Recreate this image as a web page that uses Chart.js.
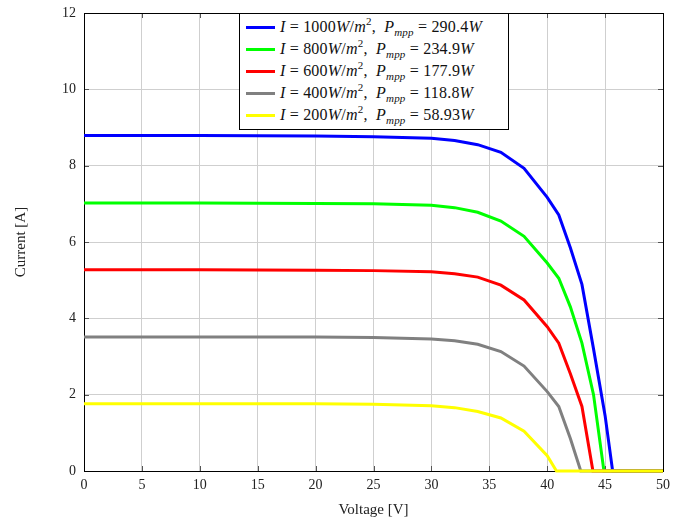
<!DOCTYPE html>
<html>
<head>
<meta charset="utf-8">
<script src="https://cdn.jsdelivr.net/npm/chart.js@4/dist/chart.umd.min.js"></script>
<style>
  html, body { margin: 0; padding: 0; background: #fff; }
  #wrap { position: relative; width: 681px; height: 521px; }
  #legend {
    position: absolute; background: #fff; border: 1px solid #000;
    font-family: "Liberation Serif", "DejaVu Serif", serif; font-size: 16px; color: #111;
    padding: 2px 6px 3px 6px; box-sizing: border-box; letter-spacing: 0.2px;
  }
  #legend .row { display: flex; align-items: center; height: 22px; white-space: nowrap; }
  #legend .sw { width: 29px; height: 3px; margin-right: 5px; flex: none; }
  #legend sup { font-size: 11px; vertical-align: 7px; line-height: 0; }
  #legend sub { font-size: 11px; vertical-align: -4px; line-height: 0; }
</style>
</head>
<body>
<div id="wrap">
  <canvas id="c" width="681" height="521"></canvas>
  <div id="legend"></div>
</div>
<script>
// ---- data ----
const irradiance = [1000, 800, 600, 400, 200];
const pmpp = ['290.4', '234.9', '177.9', '118.8', '58.93'];
const colors = ['#0000ff', '#00ff00', '#ff0000', '#808080', '#ffff00'];

const v1000 = [0, 10, 20, 25, 30, 32, 34, 36, 38, 40, 41, 42, 43, 44, 45, 45.65, 50];
const i1000 = [8.79, 8.79, 8.78, 8.76, 8.72, 8.66, 8.55, 8.35, 7.93, 7.17, 6.71, 5.85, 4.89, 3.2, 1.45, 0, 0];

const v800 = [0, 10, 20, 25, 30, 32, 34, 36, 38, 40, 41, 42, 43, 44, 44.9, 50];
const i800 = [7.02, 7.02, 7.01, 7.0, 6.96, 6.9, 6.78, 6.55, 6.15, 5.45, 5.05, 4.3, 3.35, 2.0, 0, 0];

const v600 = [0, 10, 20, 25, 30, 32, 34, 36, 38, 40, 41, 42, 43, 43.95, 50];
const i600 = [5.27, 5.27, 5.26, 5.25, 5.22, 5.17, 5.08, 4.87, 4.48, 3.78, 3.35, 2.55, 1.69, 0, 0];

const v400 = [0, 10, 20, 25, 30, 32, 34, 36, 38, 40, 41, 42, 42.9, 50];
const i400 = [3.51, 3.51, 3.51, 3.5, 3.46, 3.41, 3.32, 3.13, 2.75, 2.08, 1.69, 0.85, 0, 0];

const v200 = [0, 10, 20, 25, 30, 32, 34, 36, 38, 40, 40.8, 50];
const i200 = [1.76, 1.76, 1.76, 1.75, 1.71, 1.66, 1.56, 1.39, 1.04, 0.4, 0, 0];

const xTicks = [0, 5, 10, 15, 20, 25, 30, 35, 40, 45, 50];
const yTicks = [0, 2, 4, 6, 8, 10, 12];

const voltages = [v1000, v800, v600, v400, v200];
const currents = [i1000, i800, i600, i400, i200];

const zip = (xs, ys) => xs.map((x, k) => ({ x: x, y: ys[k] }));

const datasets = irradiance.map((irr, k) => ({
  label: 'I = ' + irr + 'W/m², Pmpp = ' + pmpp[k] + 'W',
  data: zip(voltages[k], currents[k]),
  borderColor: colors[k],
  backgroundColor: colors[k],
  borderWidth: 3,
  pointRadius: 0,
  tension: 0,
  fill: false,
  clip: 4,
  order: irradiance.length - k
}));

const serif = '"Liberation Serif", "DejaVu Serif", serif';

const frame = {
  id: 'frame',
  beforeDatasetsDraw(chart) {
    const { ctx, chartArea: a, scales } = chart;
    ctx.save();
    ctx.strokeStyle = '#555';
    ctx.lineWidth = 1;
    const tl = 5;
    ctx.beginPath();
    xTicks.forEach(t => {
      const x = Math.round(scales.x.getPixelForValue(t)) + 0.5;
      ctx.moveTo(x, a.bottom); ctx.lineTo(x, a.bottom - tl);
      ctx.moveTo(x, a.top); ctx.lineTo(x, a.top + tl);
    });
    yTicks.forEach(t => {
      const y = Math.round(scales.y.getPixelForValue(t)) + 0.5;
      ctx.moveTo(a.left, y); ctx.lineTo(a.left + tl, y);
      ctx.moveTo(a.right, y); ctx.lineTo(a.right - tl, y);
    });
    ctx.stroke();
    ctx.strokeStyle = '#000';
    ctx.strokeRect(Math.round(a.left) + 0.5, Math.round(a.top) + 0.5,
                   Math.round(a.right - a.left), Math.round(a.bottom - a.top));
    ctx.restore();
  }
};

const htmlLegend = {
  id: 'htmlLegend',
  afterUpdate(chart) {
    const box = document.getElementById('legend');
    box.innerHTML = '';
    chart.data.datasets.forEach((ds, k) => {
      const row = document.createElement('div');
      row.className = 'row';
      const sw = document.createElement('span');
      sw.className = 'sw';
      sw.style.background = ds.borderColor;
      row.appendChild(sw);
      const txt = document.createElement('span');
      txt.innerHTML = '<i>I</i> = ' + irradiance[k] + '<i>W</i>/<i>m</i><sup>2</sup>,&nbsp; <i>P</i><sub><i>mpp</i></sub> = ' + pmpp[k] + '<i>W</i>';
      row.appendChild(txt);
      box.appendChild(row);
    });
    const a = chart.chartArea;
    const w = 270;
    box.style.width = w + 'px';
    box.style.left = Math.round((a.left + a.right) / 2 - w / 2) + 'px';
    box.style.top = Math.round(a.top) + 'px';
  }
};

new Chart(document.getElementById('c'), {
  type: 'line',
  data: { datasets: datasets },
  plugins: [frame, htmlLegend],
  options: {
    responsive: false,
    animation: false,
    layout: { padding: { left: 0, right: 18, top: 13, bottom: 0 } },
    plugins: { legend: { display: false }, tooltip: { enabled: false } },
    scales: {
      x: {
        type: 'linear', min: 0, max: 50,
        afterFit(s) { s.height = 50; s.paddingLeft = 0; s.paddingRight = 0; },
        afterBuildTicks(s) { s.ticks = xTicks.map(v => ({ value: v })); },
        grid: { color: '#cfcfcf', lineWidth: 1, drawTicks: false },
        border: { display: false },
        ticks: { color: '#222', padding: 6, font: { family: serif, size: 14 }, maxRotation: 0 },
        title: { display: true, text: 'Voltage [V]', color: '#222', font: { family: serif, size: 15 }, padding: { top: 0, bottom: 2 } }
      },
      y: {
        type: 'linear', min: 0, max: 12,
        afterFit(s) { s.width = 84; s.paddingTop = 0; s.paddingBottom = 0; },
        afterBuildTicks(s) { s.ticks = yTicks.map(v => ({ value: v })); },
        grid: { color: '#cfcfcf', lineWidth: 1, drawTicks: false },
        border: { display: false },
        ticks: { color: '#222', padding: 8, font: { family: serif, size: 14 } },
        title: { display: true, text: 'Current [A]', color: '#222', font: { family: serif, size: 15 }, padding: { top: 12, bottom: 0 } }
      }
    }
  }
});
</script>
</body>
</html>
